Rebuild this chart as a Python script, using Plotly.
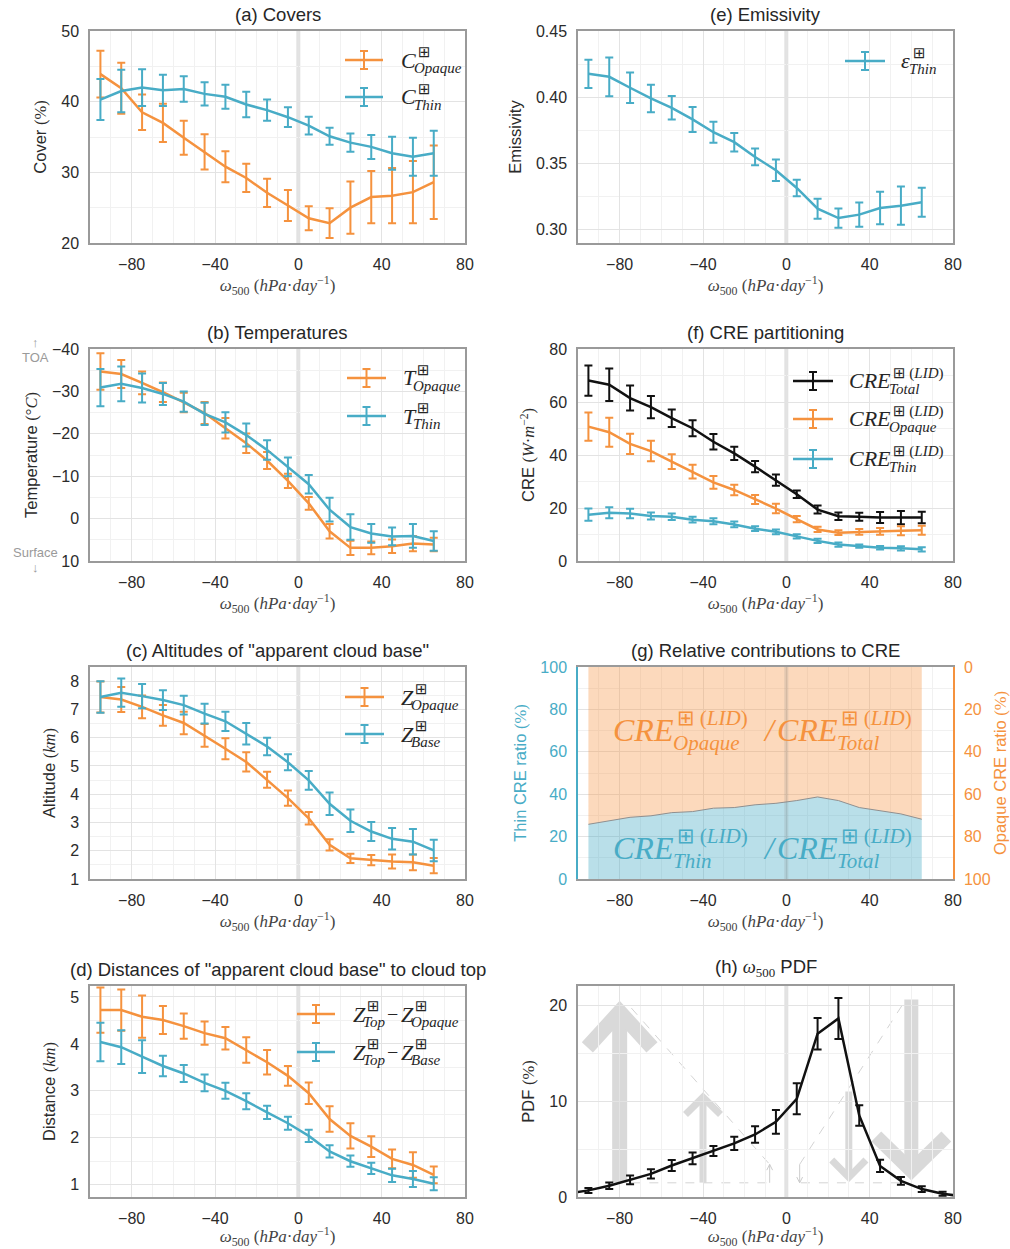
import plotly.graph_objects as go

# ---------------- data ----------------
OMEGA = [-95, -85, -75, -65, -55, -45, -35, -25, -15, -5, 5, 15, 25, 35, 45, 55, 65]
X_TICKS = [-80, -40, 0, 40, 80]

COVER_OPAQUE = [43.9, 41.9, 38.5, 37.0, 34.9, 32.9, 30.8, 29.2, 27.1, 25.3, 23.5, 22.8, 25.0, 26.5, 26.7, 27.2, 28.6]
COVER_OPAQUE_ERR = [3.3, 3.6, 2.5, 2.7, 2.4, 2.5, 2.2, 2.0, 2.0, 2.2, 1.7, 2.1, 3.7, 3.7, 3.9, 4.4, 5.2]
COVER_THIN = [40.3, 41.5, 42.0, 41.6, 41.8, 41.1, 40.7, 39.6, 38.8, 37.8, 36.6, 35.1, 34.2, 33.6, 32.7, 32.2, 32.7]
COVER_THIN_ERR = [2.9, 3.0, 2.6, 2.2, 1.8, 1.65, 1.7, 1.8, 1.5, 1.4, 1.25, 1.2, 1.3, 1.7, 2.35, 2.7, 3.2]

EMISS_THIN = [0.4176, 0.4153, 0.407, 0.3989, 0.3918, 0.383, 0.3733, 0.3658, 0.3546, 0.3445, 0.3311, 0.3154,
              0.3083, 0.3109, 0.3159, 0.3177, 0.3202]
EMISS_THIN_ERR = [0.0107, 0.0147, 0.0116, 0.0104, 0.0089, 0.0095, 0.008, 0.007, 0.0063, 0.0082, 0.0063, 0.0076,
                  0.0073, 0.0091, 0.0123, 0.0145, 0.011]

TEMP_OPAQUE = [-34.7, -34.1, -32.0, -29.8, -27.4, -24.9, -21.3, -17.8, -13.7, -8.9, -3.6, 3.0, 6.9, 6.9, 6.5, 5.9, 6.1]
TEMP_OPAQUE_ERR = [4.3, 3.3, 2.7, 2.3, 2.3, 2.6, 2.4, 2.3, 2.0, 1.7, 1.5, 1.7, 1.7, 1.5, 1.6, 1.8, 1.6]
TEMP_THIN = [-30.9, -31.8, -30.8, -29.4, -27.6, -24.7, -22.7, -19.7, -16.2, -12.2, -8.1, -2.1, 2.0, 3.5, 4.2, 4.1, 5.3]
TEMP_THIN_ERR = [4.4, 4.1, 3.4, 2.6, 2.4, 2.6, 2.4, 2.7, 2.3, 2.2, 2.2, 2.8, 3.0, 2.2, 2.1, 2.8, 2.3]

CRE_TOTAL = [68.1, 66.5, 61.5, 58.1, 53.9, 50.1, 45.0, 40.6, 35.6, 30.5, 25.2, 19.4, 16.9, 16.7, 16.4, 16.4, 16.4]
CRE_TOTAL_ERR = [5.7, 6.1, 4.7, 4.2, 3.3, 3.0, 2.9, 2.5, 2.1, 2.1, 1.45, 1.5, 1.4, 1.5, 2.1, 2.5, 2.2]
CRE_OPAQUE = [50.7, 48.6, 44.2, 41.5, 37.5, 33.7, 29.7, 26.8, 23.2, 19.8, 15.8, 11.9, 10.7, 11.0, 11.2, 11.4, 11.6]
CRE_OPAQUE_ERR = [5.3, 5.5, 3.8, 3.9, 2.8, 2.6, 2.4, 2.0, 1.7, 1.8, 1.2, 1.0, 0.9, 1.1, 1.3, 1.7, 1.7]
CRE_THIN = [17.5, 18.2, 17.9, 17.0, 16.7, 15.6, 15.0, 13.8, 12.2, 11.0, 9.3, 7.6, 6.2, 5.6, 5.0, 4.8, 4.4]
CRE_THIN_ERR = [2.3, 2.1, 1.8, 1.3, 1.2, 1.1, 1.1, 1.1, 0.9, 0.9, 0.8, 0.8, 0.8, 0.6, 0.7, 0.8, 0.8]

Z_OPAQUE = [7.44, 7.35, 7.09, 6.79, 6.52, 6.08, 5.61, 5.14, 4.51, 3.86, 3.15, 2.21, 1.73, 1.67, 1.62, 1.59, 1.47]
Z_OPAQUE_ERR = [0.55, 0.44, 0.4, 0.37, 0.4, 0.4, 0.37, 0.34, 0.28, 0.27, 0.22, 0.2, 0.16, 0.18, 0.25, 0.28, 0.27]
Z_BASE = [7.44, 7.59, 7.47, 7.33, 7.15, 6.85, 6.58, 6.14, 5.69, 5.13, 4.49, 3.66, 3.06, 2.68, 2.42, 2.32, 2.01]
Z_BASE_ERR = [0.56, 0.5, 0.43, 0.35, 0.33, 0.35, 0.34, 0.38, 0.31, 0.28, 0.33, 0.4, 0.4, 0.34, 0.38, 0.45, 0.38]

D_OPAQUE = [4.72, 4.72, 4.58, 4.51, 4.38, 4.23, 4.12, 3.87, 3.61, 3.32, 2.95, 2.40, 2.04, 1.81, 1.55, 1.42, 1.21]
D_OPAQUE_ERR = [0.48, 0.44, 0.45, 0.3, 0.27, 0.25, 0.24, 0.27, 0.26, 0.21, 0.23, 0.27, 0.27, 0.22, 0.2, 0.27, 0.18]
D_BASE = [4.04, 3.93, 3.73, 3.53, 3.37, 3.17, 3.00, 2.78, 2.54, 2.31, 2.04, 1.71, 1.50, 1.35, 1.20, 1.12, 1.02]
D_BASE_ERR = [0.41, 0.36, 0.35, 0.22, 0.18, 0.18, 0.17, 0.17, 0.14, 0.14, 0.13, 0.13, 0.12, 0.12, 0.14, 0.17, 0.14]

THIN_RATIO = [25.8, 27.6, 29.1, 29.8, 31.3, 31.8, 33.4, 33.7, 35.0, 35.7, 37.0, 38.7, 37.0, 33.7, 32.3, 30.7, 28.2]
TOTAL_RATIO = [100] * len(OMEGA)

OMEGA_PDF = [-105, -95, -85, -75, -65, -55, -45, -35, -25, -15, -5, 5, 15, 25, 35, 45, 55, 65, 75, 85]
PDF = [0.35, 0.69, 1.17, 1.79, 2.41, 3.28, 4.03, 4.79, 5.59, 6.52, 7.83, 10.24, 17.03, 18.62, 8.5, 3.24, 1.69, 0.83,
       0.34, 0.05]
PDF_ERR = [0, 0.26, 0.34, 0.45, 0.48, 0.57, 0.62, 0.52, 0.69, 0.86, 1.24, 1.62, 1.64, 2.14, 1.07, 0.64, 0.4, 0.3,
           0.2, 0]

# decorative arrows in panel (h): (x, y_tail, y_tip, head half width, arm end y, stroke px)
BIG_ARROWS = [(-80, 1.5, 19.3, 15.5, 15.6, 15), (-40, 1.5, 10.4, 8.4, 8.6, 7),
              (30, 11.0, 2.05, 8.2, 3.85, 7), (60, 20.6, 2.75, 16.8, 6.3, 14)]
THIN_ARROWS = [(-8, 1.48, 3.4), (6.4, 3.4, 1.48)]
DASH_LINES = [((-74.4, 19.7), (-8, 3.4)), ((-74.4, 1.48), (-8, 1.48)),
              ((6.4, 3.4), (56.8, 20.4)), ((7, 1.48), (56, 1.48))]

# ---------------- style ----------------
W, H = 1010, 1249
ORANGE = '#f5923e'
BLUE = '#48acc6'
BLACK = '#111111'
GRID = '#e3e3e3'
MINOR = '#f1f1f1'
FRAME = '#9a9a9a'
TXT = '#2b2b2b'
LEGTXT = '#262626'
SANS = 'Liberation Sans, Arial, sans-serif'
SERIF = 'Liberation Serif, DejaVu Serif, serif'

XL = [90 / W, 465 / W]
XR = [578 / W, 953 / W]


def ydom(top, bot):
    return [1 - bot / H, 1 - top / H]


ROWS = [ydom(31, 243), ydom(349, 561), ydom(667, 879), ydom(986, 1197)]


def serif(s):
    return '<span style="font-family:Liberation Serif">' + s + '</span>'


XTITLE = serif('<i>ω</i><sub>500</sub> (<i>hPa</i>·<i>day</i><sup>−1</sup>)')

fig = go.Figure()


def series(x, y, err, color, xa, ya):
    fig.add_trace(go.Scatter(
        x=x, y=y, mode='lines', line=dict(color=color, width=2.5),
        error_y=dict(type='data', array=err, color=color, thickness=2, width=4),
        xaxis=xa, yaxis=ya, showlegend=False, hoverinfo='skip'))


series(OMEGA, COVER_OPAQUE, COVER_OPAQUE_ERR, ORANGE, 'x', 'y')
series(OMEGA, COVER_THIN, COVER_THIN_ERR, BLUE, 'x', 'y')
series(OMEGA, EMISS_THIN, EMISS_THIN_ERR, BLUE, 'x2', 'y2')
series(OMEGA, TEMP_OPAQUE, TEMP_OPAQUE_ERR, ORANGE, 'x3', 'y3')
series(OMEGA, TEMP_THIN, TEMP_THIN_ERR, BLUE, 'x3', 'y3')
series(OMEGA, CRE_TOTAL, CRE_TOTAL_ERR, BLACK, 'x4', 'y4')
series(OMEGA, CRE_OPAQUE, CRE_OPAQUE_ERR, ORANGE, 'x4', 'y4')
series(OMEGA, CRE_THIN, CRE_THIN_ERR, BLUE, 'x4', 'y4')
series(OMEGA, Z_OPAQUE, Z_OPAQUE_ERR, ORANGE, 'x5', 'y5')
series(OMEGA, Z_BASE, Z_BASE_ERR, BLUE, 'x5', 'y5')
series(OMEGA, D_OPAQUE, D_OPAQUE_ERR, ORANGE, 'x7', 'y7')
series(OMEGA, D_BASE, D_BASE_ERR, BLUE, 'x7', 'y7')
# (g)
fig.add_trace(go.Scatter(x=OMEGA, y=THIN_RATIO, mode='lines', fill='tozeroy',
                         fillcolor='rgba(72,172,198,0.38)', line=dict(color='rgba(0,0,0,0)', width=0),
                         xaxis='x6', yaxis='y6', showlegend=False, hoverinfo='skip'))
fig.add_trace(go.Scatter(x=OMEGA, y=TOTAL_RATIO, mode='lines', fill='tonexty',
                         fillcolor='rgba(245,146,62,0.35)', line=dict(color='rgba(0,0,0,0)', width=0),
                         xaxis='x6', yaxis='y6', showlegend=False, hoverinfo='skip'))
fig.add_trace(go.Scatter(x=OMEGA, y=THIN_RATIO, mode='lines', line=dict(color='#8f8f8f', width=1),
                         xaxis='x6', yaxis='y6', showlegend=False, hoverinfo='skip'))
fig.add_trace(go.Scatter(x=[None], y=[None], xaxis='x6', yaxis='y9', showlegend=False))
# (h)
fig.add_trace(go.Scatter(x=OMEGA_PDF, y=PDF, mode='lines', line=dict(color=BLACK, width=2.5),
                         error_y=dict(type='data', array=PDF_ERR, color=BLACK, thickness=2, width=4),
                         xaxis='x8', yaxis='y8', showlegend=False, hoverinfo='skip'))


# ---------------- axes ----------------
def xaxis(dom, anchor):
    return dict(domain=dom, anchor=anchor, range=[-100, 80], tickvals=X_TICKS,
                showgrid=True, gridcolor=GRID, gridwidth=1, zeroline=False,
                minor=dict(dtick=10, tick0=0, showgrid=True, gridcolor=MINOR, gridwidth=1),
                showline=True, linecolor=FRAME, linewidth=1.5, mirror=True, ticks='',
                ticklabelstandoff=6, tickfont=dict(family=SANS, size=16, color=TXT),
                title=dict(text=XTITLE, font=dict(family=SERIF, size=17, color='#444'), standoff=5),
                automargin=False)


def yaxis(dom, anchor, rng, dtick, minor, title, tickformat=None, tick0=0):
    d = dict(domain=dom, anchor=anchor, range=rng, dtick=dtick, tick0=tick0,
             showgrid=True, gridcolor=GRID, gridwidth=1, zeroline=False,
             minor=dict(dtick=minor, tick0=tick0, showgrid=True, gridcolor=MINOR, gridwidth=1),
             showline=True, linecolor=FRAME, linewidth=1.5, mirror=True, ticks='',
             ticklabelstandoff=6, tickfont=dict(family=SANS, size=16, color=TXT),
             title=dict(text=title, font=dict(family=SANS, size=16.5, color=TXT), standoff=10),
             automargin=False)
    if tickformat:
        d['tickformat'] = tickformat
    return d


layout = dict(
    width=W, height=H, margin=dict(l=0, r=0, t=0, b=0),
    paper_bgcolor='white', plot_bgcolor='white', showlegend=False,
    xaxis=xaxis(XL, 'y'), yaxis=yaxis(ROWS[0], 'x', [20, 50], 10, 5, 'Cover ' + serif('(%)')),
    xaxis2=xaxis(XR, 'y2'), yaxis2=yaxis(ROWS[0], 'x2', [0.2894, 0.45], 0.05, 0.025, 'Emissivity', '.2f', 0.3),
    xaxis3=xaxis(XL, 'y3'), yaxis3=yaxis(ROWS[1], 'x3', [10, -40], 10, 5, 'Temperature ' + serif('(°<i>C</i>)')),
    xaxis4=xaxis(XR, 'y4'), yaxis4=yaxis(ROWS[1], 'x4', [0, 80], 20, 10,
                                         'CRE ' + serif('(<i>W</i>·<i>m</i><sup>−2</sup>)')),
    xaxis5=xaxis(XL, 'y5'), yaxis5=yaxis(ROWS[2], 'x5', [1, 8.5], 1, 0.5, 'Altitude ' + serif('(<i>km</i>)')),
    xaxis6=xaxis(XR, 'y6'), yaxis6=yaxis(ROWS[2], 'x6', [0, 100], 20, 10, 'Thin CRE ratio ' + serif('(%)')),
    xaxis7=xaxis(XL, 'y7'), yaxis7=yaxis(ROWS[3], 'x7', [0.738, 5.234], 1, 0.5, 'Distance ' + serif('(<i>km</i>)'),
                                         None, 1),
    xaxis8=xaxis(XR, 'y8'), yaxis8=yaxis(ROWS[3], 'x8', [0, 22], 10, 5, 'PDF ' + serif('(%)')),
)
layout['yaxis6'].update(linecolor=BLUE, mirror=False, tickfont=dict(family=SANS, size=16, color=BLUE))
layout['yaxis6']['title']['font']['color'] = BLUE
layout['yaxis9'] = dict(domain=ROWS[2], anchor='x6', overlaying='y6', side='right', range=[100, 0], dtick=20,
                        showgrid=False, zeroline=False, showline=True, linecolor=ORANGE, linewidth=1.5,
                        ticks='', ticklabelstandoff=6, tickfont=dict(family=SANS, size=16, color=ORANGE),
                        title=dict(text='Opaque CRE ratio ' + serif('(%)'),
                                   font=dict(family=SANS, size=16.5, color=ORANGE), standoff=10),
                        automargin=False)
fig.update_layout(**layout)


# ---------------- text helpers ----------------
def ptext(text, px, py, size, color, family=SERIF, anchor='left'):
    fig.add_annotation(text=text, x=px / W, y=1 - py / H, xref='paper', yref='paper', showarrow=False,
                       xanchor=anchor, yanchor='middle', borderpad=0,
                       font=dict(family=family, size=size, color=color))


BASE_EM = {'C': 0.667, 'T': 0.556, 'Z': 0.556, 'ε': 0.44, 'CRE': 1.889}
BOX = '<span style="font-family:DejaVu Sans">⊞</span>'


def mathlab(px, py, base, sup, sub, color, size=22, ssize=15, dsup=-8, dsub=8, supdx=2, subdx=-2):
    w = BASE_EM[base] * size
    ptext(f'<i>{base}</i>', px, py, size, color)
    ptext(sup, px + w + supdx, py + dsup, ssize, color)
    ptext(f'<i>{sub}</i>', px + w + subdx, py + dsub, ssize, color)


def legsym(x0, x1, y, color):
    xm = (x0 + x1) / 2
    segs = [(x0, y, x1, y, 2.5), (xm, y - 9, xm, y + 9, 2), (xm - 4, y - 9, xm + 4, y - 9, 2),
            (xm - 4, y + 9, xm + 4, y + 9, 2)]
    for a, b, c, d, w in segs:
        fig.add_shape(type='line', xref='paper', yref='paper', x0=a / W, y0=1 - b / H, x1=c / W, y1=1 - d / H,
                      line=dict(color=color, width=w))


LID = BOX + ' (<i>LID</i>)'
# (a)
legsym(345, 383, 60, ORANGE); mathlab(400, 60, 'C', BOX, 'Opaque', LEGTXT)
legsym(345, 383, 97, BLUE); mathlab(400, 97, 'C', BOX, 'Thin', LEGTXT)
# (e)
legsym(845, 885, 61, BLUE); mathlab(900, 61, 'ε', BOX, 'Thin', LEGTXT)
# (b)
legsym(347, 386, 378, ORANGE); mathlab(402, 378, 'T', BOX, 'Opaque', LEGTXT)
legsym(347, 386, 416, BLUE); mathlab(402, 416, 'T', BOX, 'Thin', LEGTXT)
# (f)
legsym(793, 833, 381, BLACK); mathlab(848, 381, 'CRE', LID, 'Total', LEGTXT)
legsym(793, 833, 419, ORANGE); mathlab(848, 419, 'CRE', LID, 'Opaque', LEGTXT)
legsym(793, 833, 459, BLUE); mathlab(848, 459, 'CRE', LID, 'Thin', LEGTXT)
# (c)
legsym(345, 384, 697, ORANGE); mathlab(400, 697, 'Z', BOX, 'Opaque', LEGTXT)
legsym(345, 384, 734, BLUE); mathlab(400, 734, 'Z', BOX, 'Base', LEGTXT)
# (d)
for yy, col, sub in [(1014, ORANGE, 'Opaque'), (1052, BLUE, 'Base')]:
    legsym(297, 335, yy, col)
    mathlab(352, yy, 'Z', BOX, 'Top', LEGTXT)
    ptext('−', 386, yy, 20, LEGTXT)
    mathlab(400, yy, 'Z', BOX, sub, LEGTXT)

# (g) big ratio labels
for yc, col, sub in [(730, ORANGE, 'Opaque'), (848, BLUE, 'Thin')]:
    mathlab(612, yc, 'CRE', LID, sub, col, size=32, ssize=21, dsup=-12, dsub=13, supdx=4, subdx=0)
    ptext('<i>/</i>', 762, yc, 32, col)
    mathlab(776, yc, 'CRE', LID, 'Total', col, size=32, ssize=21, dsup=-12, dsub=13, supdx=4, subdx=0)

# subplot titles
TITLES = [('(a) Covers', XL, ROWS[0]), ('(e) Emissivity', XR, ROWS[0]),
          ('(b) Temperatures', XL, ROWS[1]), ('(f) CRE partitioning', XR, ROWS[1]),
          ('(c) Altitudes of "apparent cloud base"', XL, ROWS[2]),
          ('(g) Relative contributions to CRE', XR, ROWS[2]),
          ('(d) Distances of "apparent cloud base" to cloud top', XL, ROWS[3]),
          ('(h) ' + serif('<i>ω</i><sub>500</sub>') + ' PDF', XR, ROWS[3])]
for t, xd, yd in TITLES:
    fig.add_annotation(text=t, x=(xd[0] + xd[1]) / 2, y=yd[1], xref='paper', yref='paper',
                       xanchor='center', yanchor='bottom', yshift=4, showarrow=False,
                       font=dict(family=SANS, size=18.5, color='#262626'))

for txt, py in [('↑', 342), ('TOA', 357), ('Surface', 552), ('↓', 568)]:
    ptext(txt, 35, py, 13, '#9a9a9a', family=SANS, anchor='center')

# ---------------- shapes ----------------
for xa, ya in [('x', 'y'), ('x2', 'y2'), ('x3', 'y3'), ('x4', 'y4'), ('x5', 'y5'), ('x7', 'y7'), ('x8', 'y8')]:
    fig.add_shape(type='line', xref=xa, yref=ya + ' domain', x0=0, x1=0, y0=0, y1=1,
                  line=dict(color='#e2e2e2', width=4), layer='below')
fig.add_shape(type='line', xref='x6', yref='y6 domain', x0=0, x1=0, y0=0, y1=1,
              line=dict(color='rgba(140,140,140,0.22)', width=4), layer='above')

ARROW_COL = '#d9d9d9'
for x, yt, yp, hw, ye, w in BIG_ARROWS:
    fig.add_shape(type='line', xref='x8', yref='y8', x0=x, x1=x, y0=yt, y1=yp,
                  line=dict(color=ARROW_COL, width=w), layer='below')
    fig.add_shape(type='path', xref='x8', yref='y8',
                  path=f'M{x - hw},{ye} L{x},{yp} L{x + hw},{ye}',
                  line=dict(color=ARROW_COL, width=w), layer='below')
for x, yt, yp in THIN_ARROWS:
    d = 0.6 if yp > yt else -0.6
    fig.add_shape(type='line', xref='x8', yref='y8', x0=x, x1=x, y0=yt, y1=yp,
                  line=dict(color='#cccccc', width=1), layer='below')
    fig.add_shape(type='path', xref='x8', yref='y8',
                  path=f'M{x - 1.4},{yp - d} L{x},{yp} L{x + 1.4},{yp - d}',
                  line=dict(color='#cccccc', width=1), layer='below')
for (x0, y0), (x1, y1) in DASH_LINES:
    fig.add_shape(type='line', xref='x8', yref='y8', x0=x0, y0=y0, x1=x1, y1=y1,
                  line=dict(color='#d4d4d4', width=1, dash='dash'), layer='below')

fig.write_html('out.html')
